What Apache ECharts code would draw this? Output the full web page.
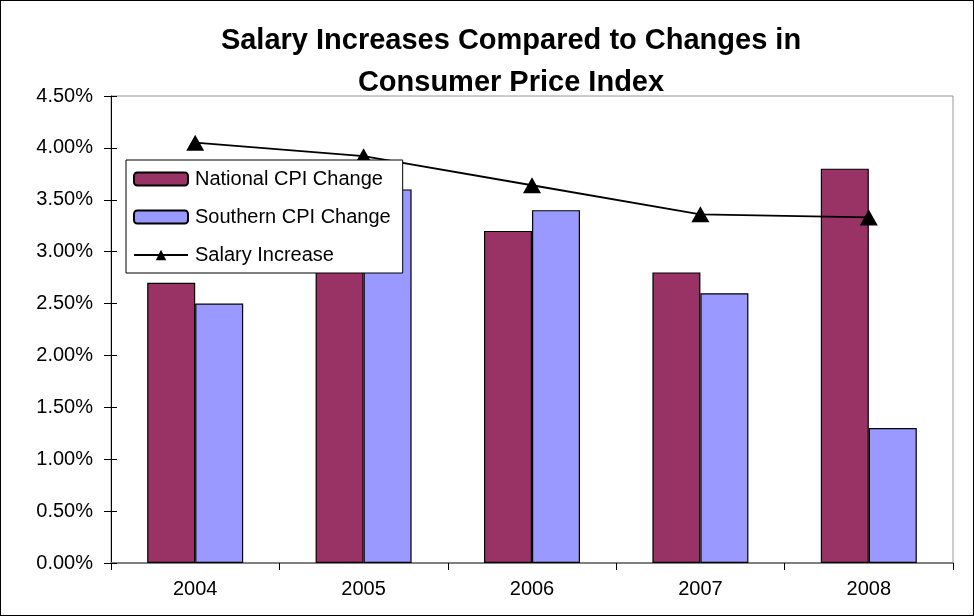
<!DOCTYPE html>
<html>
<head>
<meta charset="utf-8">
<script src="https://cdn.jsdelivr.net/npm/echarts@6/dist/echarts.min.js"></script>
<style>
  html, body { margin: 0; padding: 0; background: #fff; }
  #chart { width: 974px; height: 616px; box-sizing: border-box; border: 1px solid #000; }
</style>
</head>
<body>
<div id="chart"></div>
<script>
// data
const years = ['2004', '2005', '2006', '2007', '2008'];
const nationalCPI = [2.7, 3.0, 3.2, 2.8, 3.8];
const southernCPI = [2.5, 3.6, 3.4, 2.6, 1.3];
const salaryIncrease = [4.05, 3.92, 3.64, 3.36, 3.33];

const chart = echarts.init(document.getElementById('chart'));
const font = 'Liberation Sans, Arial, sans-serif';

const option = {
  animation: false,
  title: {
    text: 'Salary Increases Compared to Changes in\nConsumer Price Index',
    left: 505,
    textAlign: 'center',
    top: 14,
    textStyle: {
      fontFamily: font,
      fontWeight: 'bold',
      fontSize: 29,
      lineHeight: 42,
      color: '#000'
    }
  },
  legend: {
    orient: 'vertical',
    left: 125,
    top: 159,
    padding: [9, 12, 8, 7],
    itemGap: 18,
    itemWidth: 54,
    itemHeight: 13,
    backgroundColor: '#fff',
    borderColor: '#000',
    borderWidth: 1,
    textStyle: { fontFamily: font, fontSize: 20, color: '#000', padding: [0, 0, 0, 2] },
    data: ['National CPI Change', 'Southern CPI Change', 'Salary Increase']
  },
  grid: {
    left: 110,
    top: 95,
    right: 20,
    bottom: 52,
    show: true,
    borderColor: '#999',
    borderWidth: 1,
    backgroundColor: '#fff'
  },
  xAxis: {
    type: 'category',
    data: years,
    axisLine: { lineStyle: { color: '#808080', width: 2 } },
    axisTick: { show: true, length: 7, lineStyle: { color: '#000' } },
    axisLabel: { fontFamily: font, fontSize: 20, color: '#000', margin: 16 }
  },
  yAxis: [
    {
      type: 'value',
      min: 0,
      max: 4.5,
      interval: 0.5,
      axisLine: { show: true, lineStyle: { color: '#000' } },
      axisTick: { show: true, length: 7, lineStyle: { color: '#000' } },
      axisLabel: {
        fontFamily: font, fontSize: 20, color: '#000', margin: 18,
        formatter: v => v.toFixed(2) + '%'
      },
      splitLine: { show: false }
    },
    {
      // 内侧刻度
      type: 'value',
      position: 'left',
      offset: 0,
      min: 0,
      max: 4.5,
      interval: 0.5,
      axisLine: { show: false },
      axisTick: { show: true, inside: true, length: 6, lineStyle: { color: '#000' } },
      axisLabel: { show: false },
      splitLine: { show: false }
    }
  ],
  series: [
    {
      name: 'National CPI Change',
      type: 'bar',
      data: nationalCPI,
      barGap: '0%',
      barCategoryGap: '43%',
      itemStyle: { color: '#993366', borderColor: '#000', borderWidth: 1.2 }
    },
    {
      name: 'Southern CPI Change',
      type: 'bar',
      data: southernCPI,
      itemStyle: { color: '#9999FF', borderColor: '#000', borderWidth: 1.2 }
    },
    {
      name: 'Salary Increase',
      type: 'line',
      data: salaryIncrease,
      symbol: 'triangle',
      symbolSize: [18, 16],
      z: 3,
      lineStyle: { color: '#000', width: 1.8 },
      itemStyle: { color: '#000' }
    }
  ]
};

chart.setOption(option);
</script>
</body>
</html>
